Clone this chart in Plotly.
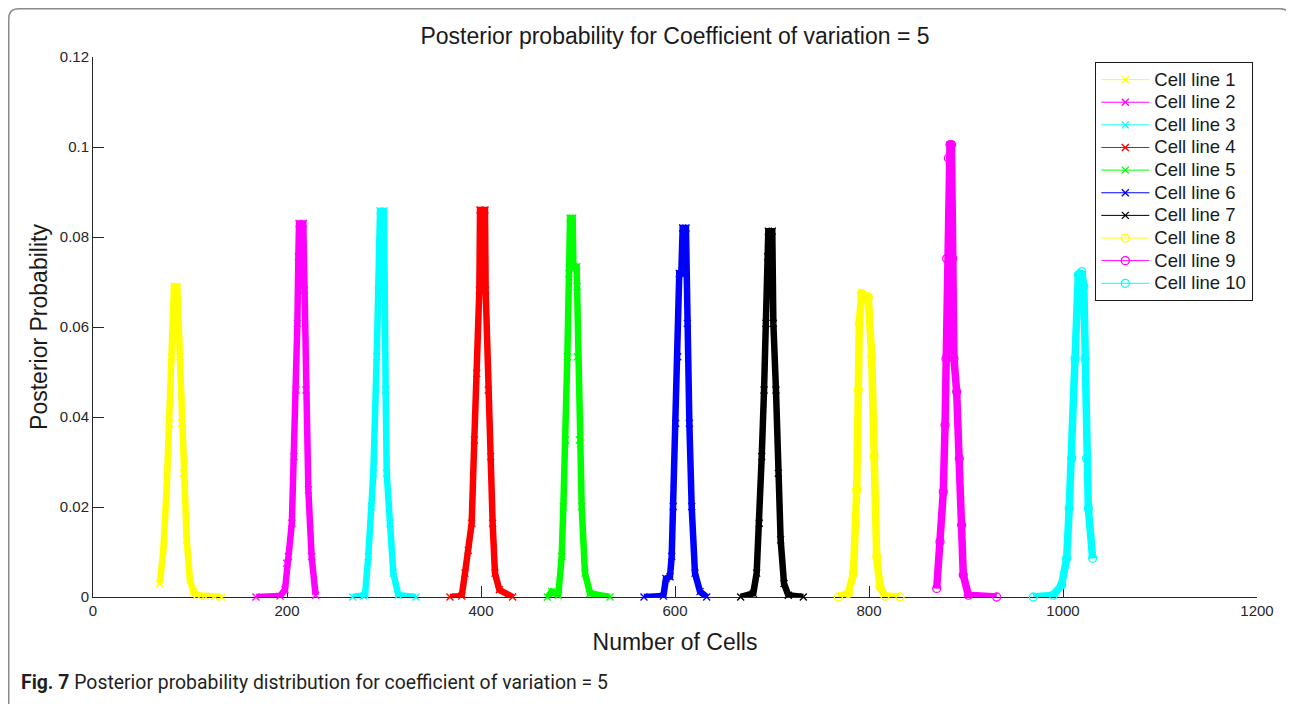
import plotly.graph_objects as go

# ---------------- data ----------------
series_names = ["Cell line 1", "Cell line 2", "Cell line 3", "Cell line 4", "Cell line 5",
                "Cell line 6", "Cell line 7", "Cell line 8", "Cell line 9", "Cell line 10"]

cell1_x = [69, 72.5, 75.9, 78.7, 81.1, 82.8, 83.5, 86.9, 89.7, 91.4, 93.1, 96.6, 100, 103.4, 106.9, 115, 125, 132.6]
cell1_y = [0.0030, 0.0104, 0.0238, 0.0386, 0.0534, 0.0645, 0.0690, 0.0690, 0.0534, 0.0386, 0.0275, 0.0127,
           0.0038, 0.0012, 0.0004, 0.0002, 0.0001, 0.0]

cell2_x = [168, 192.8, 197.9, 199.7, 201.5, 205, 207.2, 209.3, 210.7, 211.7, 212.4, 216.8, 217.9, 219.6, 222,
           225.4, 229.5]
cell2_y = [0.0, 0.0002, 0.0016, 0.0075, 0.0090, 0.0164, 0.0312, 0.0460, 0.0608, 0.0756, 0.0830, 0.0830, 0.0682,
           0.0460, 0.0238, 0.0090, 0.0004]

cell3_x = [267.7, 278.7, 280.4, 283.8, 287.3, 289, 292.5, 294.1, 295.2, 295.9, 300, 300.3, 301.7, 302.8, 306.2,
           309.6, 314.8, 333]
cell3_y = [0.0, 0.0002, 0.0004, 0.0090, 0.0201, 0.0275, 0.0534, 0.0682, 0.0793, 0.0858, 0.0858, 0.0682, 0.0460,
           0.0275, 0.0164, 0.0053, 0.0004, 0.0]

cell4_x = [368, 380.1, 383.5, 386.9, 390.4, 393.1, 395.6, 398.3, 399, 404.1, 404.8, 407.5, 410, 412, 414.4,
           418.9, 432.6]
cell4_y = [0.0, 0.0002, 0.0053, 0.0104, 0.0164, 0.0349, 0.0497, 0.0682, 0.0860, 0.0860, 0.0682, 0.0460, 0.0312,
           0.0164, 0.0053, 0.0016, 0.0]

cell5_x = [468.4, 472.9, 479.7, 483.2, 484.9, 487.3, 489, 490.7, 491.8, 494.5, 495.2, 498.6, 499, 499.3, 501.4,
           503.8, 507.2, 512.4, 533]
cell5_y = [0.0, 0.0012, 0.0004, 0.0090, 0.0201, 0.0349, 0.0534, 0.0719, 0.0842, 0.0842, 0.0734, 0.0734, 0.0690,
           0.0534, 0.0349, 0.0201, 0.0053, 0.0008, 0.0]

cell6_x = [568, 588, 590.7, 594.8, 596.6, 598.2, 600.7, 602.8, 604.4, 606.5, 607.9, 611.3, 612.7, 614.8, 617.2,
           620.6, 625.8, 632.7]
cell6_y = [0.0, 0.0002, 0.0041, 0.0045, 0.0090, 0.0201, 0.0386, 0.0534, 0.0719, 0.0719, 0.0820, 0.0820, 0.0608,
           0.0386, 0.0201, 0.0053, 0.0012, 0.0]

cell7_x = [667.7, 680.7, 684.2, 686.9, 689.4, 691.8, 693.8, 695.6, 696.2, 700.3, 701.4, 704.1, 706.5, 708.9,
           712.4, 716.8, 732.3]
cell7_y = [0.0, 0.0008, 0.0053, 0.0164, 0.0312, 0.0460, 0.0608, 0.0756, 0.0813, 0.0813, 0.0608, 0.0460, 0.0275,
           0.0127, 0.0030, 0.0004, 0.0]

cell8_x = [768.4, 778.7, 784, 787.3, 789, 790, 792.5, 799.3, 802.8, 805.2, 807.9, 811.3, 816.5, 832]
cell8_y = [0.0, 0.0008, 0.0053, 0.0238, 0.0460, 0.0608, 0.0674, 0.0667, 0.0534, 0.0312, 0.0090, 0.0023,
           0.0002, 0.0]

cell9_x = [869.8, 873.2, 876.6, 878.4, 879.4, 880.1, 881.8, 883.5, 885, 886.3, 887.6, 890.4, 893.1, 895.5,
           897.2, 902.4, 931.6]
cell9_y = [0.0019, 0.0123, 0.0234, 0.0382, 0.0530, 0.0752, 0.0975, 0.1005, 0.1005, 0.0752, 0.0530, 0.0456,
           0.0308, 0.0160, 0.0049, 0.0004, 0.0]

cell10_x = [969.4, 990, 998.6, 1003.8, 1006.4, 1009, 1012.4, 1015.8, 1019.3, 1021.5, 1022.7, 1024.4, 1026.1,
            1030.6]
cell10_y = [0.0, 0.0004, 0.0027, 0.0086, 0.0197, 0.0308, 0.0530, 0.0716, 0.0723, 0.0690, 0.0530, 0.0308,
            0.0197, 0.0086]

x_ticks = [0, 200, 400, 600, 800, 1000, 1200]
x_ticktext = ["0", "200", "400", "600", "800", "1000", "1200"]
y_ticks = [0, 0.02, 0.04, 0.06, 0.08, 0.1, 0.12]
y_ticktext = ["0", "0.02", "0.04", "0.06", "0.08", "0.1", "0.12"]

# ---------------- styles ----------------
xs = [cell1_x, cell2_x, cell3_x, cell4_x, cell5_x, cell6_x, cell7_x, cell8_x, cell9_x, cell10_x]
ys = [cell1_y, cell2_y, cell3_y, cell4_y, cell5_y, cell6_y, cell7_y, cell8_y, cell9_y, cell10_y]
colors = ["#ffff00", "#ff00ff", "#00ffff", "#ff0000", "#00ff00", "#0000ff", "#000000",
          "#ffff00", "#ff00ff", "#00ffff"]
symbols = ["x-thin"] * 7 + ["circle-open"] * 3

FONT = "Liberation Sans, Arial, Helvetica, sans-serif"

# The page body has an 8px margin, so figure coordinates = page coordinates - 8
W, H = 1286, 696
OFF = 8
L, R, T, B = 93 - OFF, 1257 - OFF, 57 - OFF, 597 - OFF


def px(xp):  # page x pixel -> paper
    return (xp - OFF - L) / (R - L)


def py(yp):  # page y pixel -> paper
    return (B - (yp - OFF)) / (B - T)


fig = go.Figure()
for name, x, y, c, s in zip(series_names, xs, ys, colors, symbols):
    band_w = 7.5 if s == "circle-open" else 6.5
    fig.add_trace(go.Scatter(
        x=x, y=y, mode="lines", legendgroup=name, showlegend=False, hoverinfo="skip",
        line=dict(color=c, width=band_w), cliponaxis=False,
    ))
    fig.add_trace(go.Scatter(
        x=x, y=y, mode="lines+markers", legendgroup=name,
        name=f'<span style="font-size:18.5px">{name}</span>',
        line=dict(color=c, width=1), cliponaxis=False,
        marker=dict(symbol=s, size=8 if s == "circle-open" else 7, color=c,
                    line=dict(color=c, width=1.3)),
    ))

# card border around the figure (in page pixels -> paper)
x0, x1, y0, y1, r = 8.75, 1290, 8.75, 740, 10
path = (f"M {px(x0 + r)} {py(y0)} L {px(x1 - r)} {py(y0)} Q {px(x1)} {py(y0)} {px(x1)} {py(y0 + r)} "
        f"L {px(x1)} {py(y1)} L {px(x0)} {py(y1)} L {px(x0)} {py(y0 + r)} "
        f"Q {px(x0)} {py(y0)} {px(x0 + r)} {py(y0)} Z")

fig.update_layout(
    width=W, height=H,
    margin=dict(l=L, r=W - R, t=T, b=H - B),
    paper_bgcolor="white", plot_bgcolor="white",
    font=dict(family=FONT, color="#262626"),
    title=dict(text="Posterior probability for Coefficient of variation = 5",
               x=px(675), xref="paper", xanchor="center",
               y=1 - (36 - OFF) / H, yref="container", yanchor="middle",
               font=dict(size=23, color="#1a1a1a", family=FONT)),
    xaxis=dict(range=[0, 1200], tickvals=x_ticks, ticktext=x_ticktext, ticks="inside", ticklen=11,
               tickwidth=1, tickcolor="#262626", showline=True, linecolor="#262626", linewidth=1,
               showgrid=False, zeroline=False, layer="below traces",
               tickfont=dict(size=15, family=FONT, color="#262626"),
               title=dict(text="Number of Cells", font=dict(size=23, family=FONT, color="#1a1a1a"),
                          standoff=15)),
    yaxis=dict(range=[0, 0.12], tickvals=y_ticks, ticktext=y_ticktext, ticks="inside", ticklen=11,
               tickwidth=1, tickcolor="#262626", showline=True, linecolor="#262626", linewidth=1,
               showgrid=False, zeroline=False, layer="below traces",
               tickfont=dict(size=15, family=FONT, color="#262626"),
               title=dict(text="Posterior Probability", font=dict(size=23, family=FONT, color="#1a1a1a"),
                          standoff=5)),
    legend=dict(x=px(1253), xanchor="right", y=py(62), yanchor="top",
                bgcolor="white", bordercolor="#1a1a1a", borderwidth=1.3,
                font=dict(size=15.1, family=FONT, color="#1a1a1a"),
                itemwidth=48, tracegroupgap=0),
    shapes=[dict(type="path", xref="paper", yref="paper", path=path,
                 line=dict(color="#8a8a8a", width=1.5), fillcolor="rgba(0,0,0,0)", layer="below")],
    annotations=[dict(text="<b>Fig. 7</b> Posterior probability distribution for coefficient of variation = 5",
                      xref="paper", yref="paper", x=px(19), y=py(682), xanchor="left", yanchor="middle",
                      showarrow=False, font=dict(size=19.4, family="Roboto, Open Sans, sans-serif",
                                                 color="#231f20"))],
)

fig.write_html("out.html")
